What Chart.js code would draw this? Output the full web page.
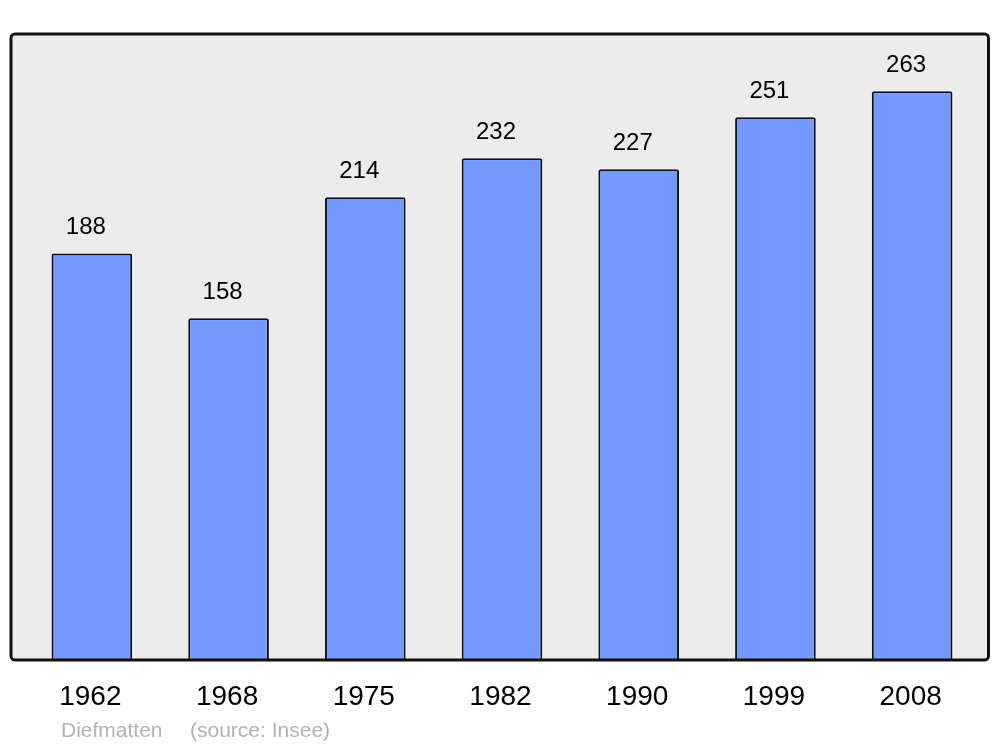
<!DOCTYPE html>
<html>
<head>
<meta charset="utf-8">
<script src="https://cdn.jsdelivr.net/npm/chart.js@4/dist/chart.umd.min.js"></script>
<style>
	html, body { margin: 0; padding: 0; background: #fff; }
	#wrap { width: 1000px; height: 747px; }
</style>
</head>
<body>
<div id="wrap"><canvas id="chart" width="1000" height="747"></canvas></div>
<script>
const years = ['1962', '1968', '1975', '1982', '1990', '1999', '2008'];
const population = [188, 158, 214, 232, 227, 251, 263];
const commune = 'Diefmatten';
const source = '(source: Insee)';

const font = '"Liberation Sans", Arial, sans-serif';

// frame behind the bars, border drawn on top
const framePlugin = {
	id: 'frame',
	beforeDatasetsDraw(chart){
		let a = chart.chartArea, ctx = chart.ctx;
		ctx.save();
		ctx.beginPath();
		ctx.roundRect(a.left - 12.5, a.top, a.right - a.left + 20.5, a.bottom - a.top, 4);
		ctx.fillStyle = '#ececec';
		ctx.fill();
		ctx.restore();
	},
	afterDatasetsDraw(chart){
		let a = chart.chartArea, ctx = chart.ctx;
		let x = chart.scales.x;
		let meta = chart.getDatasetMeta(0);
		ctx.save();
		ctx.beginPath();
		ctx.roundRect(a.left - 12.5, a.top, a.right - a.left + 20.5, a.bottom - a.top, 4);
		ctx.lineWidth = 3;
		ctx.strokeStyle = '#111';
		ctx.stroke();

		ctx.fillStyle = '#000';
		ctx.textAlign = 'center';
		ctx.textBaseline = 'middle';
		ctx.font = '24px ' + font;
		meta.data.forEach((bar, i) => {
			ctx.fillText(String(population[i]), bar.x - 6, bar.y - 26);
		});
		ctx.font = '28px ' + font;
		years.forEach((year, i) => {
			ctx.fillText(year, x.getPixelForValue(i) - 1.5, a.bottom + 37);
		});

		ctx.textAlign = 'left';
		ctx.font = '21px ' + font;
		ctx.fillStyle = '#b3b3b3';
		ctx.fillText(commune, 61, a.bottom + 71);
		ctx.fillText(source, 190, a.bottom + 71);
		ctx.restore();
	}
};

new Chart(document.getElementById('chart'), {
	type: 'bar',
	data: {
		labels: years,
		datasets: [{
			data: population,
			backgroundColor: '#7499ff',
			borderColor: '#111',
			borderWidth: 2,
			borderRadius: 2,
			borderSkipped: 'bottom',
			barPercentage: 0.59,
			categoryPercentage: 1
		}]
	},
	plugins: [framePlugin],
	options: {
		responsive: false,
		animation: false,
		layout: { padding: { left: 23.5, right: 19.5, top: 34, bottom: 87 } },
		plugins: { legend: { display: false }, tooltip: { enabled: false } },
		scales: {
			x: { display: false },
			y: { display: false, min: 0, max: 289.5 }
		}
	}
});
</script>
</body>
</html>
